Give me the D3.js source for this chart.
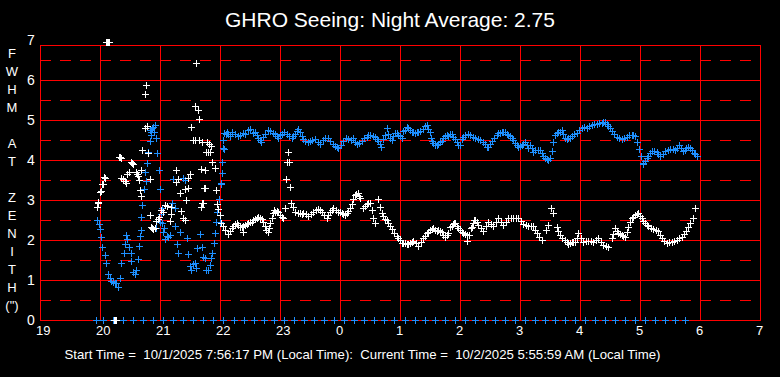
<!DOCTYPE html>
<html>
<head>
<meta charset="utf-8">
<script src="https://cdn.jsdelivr.net/npm/d3@7"></script>
<style>
  html, body { margin: 0; padding: 0; background: #000; }
  svg { display: block; }
  text { font-family: "Liberation Sans", Arial, sans-serif; fill: #fff; }
</style>
</head>
<body>
<svg id="chart" width="780" height="377"></svg>
<script>
// ---- data (time = minutes after 19:00, value = FWHM arcsec) ----
const titleText = "GHRO Seeing: Night Average: 2.75";
const footerText = "Start Time =  10/1/2025 7:56:17 PM (Local Time):  Current Time =  10/2/2025 5:55:59 AM (Local Time)";
const xTickLabels = ["19","20","21","22","23","0","1","2","3","4","5","6","7"];
const yTickLabels = ["0","1","2","3","4","5","6","7"];
const yAxisLetters = ["F","W","H","M","","A","T","","Z","E","N","I","T","H","(\")"];

const whiteSeries = [
  [57.3,2.83],[58,2.94],[58.3,2.93],[59.7,3.19],[60.7,3.23],[61.7,3.4],[63,3.39],[64,3.58],[65.3,3.54],
  [66,6.96],[67,6.96],[68,6.96],[69,6.96],
  [74,0],[75,0],[76,0],
  [79,4.07],[80,4.07],[80.5,4.06],
  [81.3,3.56],[83.3,3.52],[84.5,3.47],[86.3,3.42],[87.3,3.64],[88.7,3.71],[90.7,3.94],[92,3.92],[93,3.89],
  [96,3.7],[97,3.65],[98,3.6],[98.7,3.49],[99.7,3.24],[100.7,3.09],[101.3,3.74],[102.3,4.24],[104.7,4.79],
  [105.3,5.64],[106.3,5.88],[107.3,4.86],[108.3,4.18],[109.7,3.53],[110.3,2.63],[111,2.33],[112,2.3],
  [113,2.28],[114.7,2.3],[116.3,2.48],[118,2.53],[118.5,2.58],[121.3,2.75],[123,2.71],[125,2.88],[127,2.85],
  [129.7,2.48],[130.7,2.64],[131,2.83],[136,3.46],[136.3,3.74],[138,3.53],[139.7,3.17],[141,2.73],[143,2.55],
  [144.7,2.5],[144.7,3.28],[146.3,3.0],[148,3.29],[148,3.56],[149.7,3.64],[151.3,4.82],[153,4.49],[155,4.49],
  [155.3,5.35],[156.3,6.42],[158,5.25],[158.7,5.03],[159,4.49],[160.7,3.77],[161.3,2.83],[161.7,4.46],[162,2.92],
  [162.7,2.92],[164,3.29],[164.7,3.29],[165.3,3.74],[166,4.19],[167,4.44],[168,4.2],[169,4.4],[170,4.19],[171,4.35],
  [172.3,3.96],[174.7,3.79],[176.3,3.26],[177.3,2.89],[178,2.78],[179.7,2.63],[181.3,2.42],[183,2.35],[185,2.25],
  [187.7,2.15],[191.7,2.29],[195,2.4],[198.3,2.38],[201.7,2.33],[202.5,2.21],[205,2.38],[208.3,2.42],[211.7,2.46],
  [215,2.52],[218.3,2.57],[221.7,2.52],[225,2.35],[227.7,2.21],[230,2.42],[233.3,2.68],[234,2.75],[235,2.71],
  [236.7,2.73],[240,2.63],[243.3,2.54],[245,2.79],[246,3.52],[247.3,3.96],[248.3,4.21],[249.3,3.96],[250,3.32],
  [251,2.92],[253.3,2.83],[255,2.71],[260,2.67],[263.3,2.68],[268.3,2.6],[273.3,2.71],[278.3,2.77],[281.7,2.71],
  [286.7,2.54],[290,2.71],[293.3,2.79],[298.3,2.71],[301.7,2.67],[305,2.63],[308.3,2.73],[311.7,2.9],[315,3.13],
  [317.7,3.17],[320,3.04],[323.3,2.79],[326.7,2.9],[330,2.93],[333.3,2.54],[335,2.42],[338.3,3.02],[340,2.83],
  [341.7,2.67],[345,2.52],[346.7,2.5],[348.3,2.43],[351.7,2.27],[356.7,2.1],[360,2.0],[361.7,1.93],[365,1.92],
  [366.7,1.9],[370,1.93],[373.3,1.97],[378.3,1.86],[383.3,2.04],[386.7,2.17],[388.3,2.21],[391.7,2.27],
  [393.3,2.29],[396.7,2.23],[398.3,2.25],[401.7,2.19],[405,2.08],[408.3,2.18],[410,2.33],[411.7,2.35],[414,2.43],
  [415,2.42],[418.3,2.31],[421.7,2.21],[423.3,2.17],[426.7,2.13],[427.3,1.98],[431,2.29],[431.7,2.33],[434.3,2.5],
  [435,2.5],[438.3,2.38],[443.3,2.23],[448.3,2.46],[453.3,2.35],[458.3,2.54],[463.3,2.38],[468.3,2.54],
  [473.3,2.54],[478.3,2.54],[483.3,2.4],[488.3,2.35],[493.3,2.35],[496.7,2.17],[501.7,2.0],[506,2.25],
  [508.3,2.38],[510.7,2.79],[513.3,2.67],[516.7,2.33],[520,2.13],[525,2.0],[528.3,1.9],[530,1.92],[533.3,1.96],
  [535,1.96],[538.3,2.17],[543.3,1.96],[548.3,1.98],[553.3,1.96],[558.3,2.04],[563.3,1.88],[568.3,1.83],
  [571.7,2.04],[575,2.29],[578.3,2.17],[581.7,2.13],[585,2.08],[588.3,2.33],[591.7,2.54],[595,2.63],[598.3,2.67],
  [601.7,2.54],[605,2.42],[608.3,2.35],[613.3,2.27],[618.3,2.23],[621.7,2.04],[626.7,1.93],[631.7,1.96],
  [636.7,2.0],[641.7,2.08],[646,2.23],[650,2.42],[652.7,2.54],[655,2.79],
  [189.5,2.22],[193.3,2.36],[196.7,2.42],[200,2.33],[203.3,2.36],[206.7,2.4],[210,2.46],[213.3,2.5],[216.7,2.56],
  [220,2.56],[223.3,2.44],[226.3,2.26],[228.8,2.3],[231.7,2.55],[238.3,2.7],[241.7,2.58],[257.5,2.68],[261.7,2.66],
  [265.8,2.64],[270.8,2.66],[275.8,2.74],[280,2.75],[284.2,2.62],[288.3,2.62],[291.7,2.75],[295.8,2.76],[300,2.69],
  [303.3,2.64],[306.7,2.68],[310,2.8],[313.3,3.02],[316.3,3.15],[318.8,3.1],[325,2.85],[328.3,2.92],[331.7,2.76],
  [343.3,2.6],[350,2.35],[354.2,2.18],[358.3,2.04],[363.3,1.92],[368.3,1.91],[371.7,1.95],[375.8,1.92],[380.8,1.94],
  [385,2.1],[390,2.24],[395,2.26],[400,2.22],[403.3,2.13],[406.7,2.12],[412.7,2.4],[416.7,2.36],[420,2.26],
  [425,2.15],[429.2,2.12],[433,2.42],[436.7,2.44],[440.8,2.3],[445.8,2.35],[450.8,2.4],[455.8,2.45],[460.8,2.46],
  [465.8,2.46],[470.8,2.54],[475.8,2.54],[480.8,2.47],[485.8,2.38],[490.8,2.35],[495,2.26],[499,2.08],[518.3,2.22],
  [522.5,2.06],[526.7,1.95],[531.7,1.94],[536.7,2.06],[540.8,2.06],[545.8,1.97],[550.8,1.97],[555.8,2.0],[560.8,1.96],
  [565.8,1.85],[573.3,2.16],[576.7,2.23],[580,2.15],[583.3,2.1],[586.7,2.2],[590,2.44],[593.3,2.58],[596.7,2.65],
  [600,2.6],[603.3,2.48],[606.7,2.38],[610.8,2.31],[615.8,2.25],[620,2.13],[624.2,1.98],[629.2,1.94],[634.2,1.98],
  [639.2,2.04],[644,2.15],[648,2.32]
];

const blueSeries = [
  [57.3,2.5],[58.7,2.39],[59.7,2.28],[60.7,2.08],[62,1.83],[64.7,1.63],[66.3,1.42],[68,1.14],[69.7,1.06],
  [71.3,0.98],[73,0.94],[74.7,0.92],[76.3,0.92],[78,0.83],[80,1.06],[81.3,1.42],[84,1.67],[85.3,1.89],[86.3,2.13],
  [87.3,2.03],[88.7,1.83],[90.7,1.67],[91.3,1.48],[93,1.19],[94.7,1.14],[96.3,1.25],[98,1.53],[98.7,1.86],
  [99.7,2.11],[100.7,2.25],[101.3,2.58],[102.3,2.88],[104,3.28],[105.3,3.69],[106.3,3.48],[107.3,3.92],[108,4.19],
  [109.7,4.48],[110,4.75],[110.7,4.63],[111.3,4.71],[112,4.8],[113,4.83],[113.5,4.7],[114.7,4.88],[116.3,4.56],
  [116.3,2.31],[117.3,4.17],[118.7,3.75],[119.7,3.28],[119.7,2.46],[120.7,2.64],[122,2.79],[122,2.42],[123,2.21],
  [124,2.29],[125.3,2.03],[127.3,2.11],[128,2.08],[129.7,2.13],[132,2.92],[133,3.53],[134.7,2.79],[135.3,2.36],
  [137.3,1.89],[138,1.67],[139.7,2.21],[143,3.56],[145.3,3.5],[147.3,2.06],[148,1.64],[149.7,1.36],[151.3,1.24],
  [153,1.39],[154.7,1.42],[156.3,1.31],[157.3,1.79],[159.7,2.14],[162,1.83],[163,1.58],[164.7,1.56],[166.3,1.25],
  [168,1.25],[169.7,1.38],[170.7,1.56],[172,1.67],[174,1.92],[175.3,2.17],[176.3,2.46],[177.3,2.71],[178.7,3.03],
  [180,2.46],[180.7,3.39],[181,3.42],[181.7,3.67],[182,3.96],[182.5,4.3],[183,4.5],[184,4.28],[184.5,4.68],
  [185.7,4.66],[186.7,4.71],[190,4.6],[195,4.66],[200,4.62],[205,4.64],[210,4.77],[215,4.71],[218.3,4.56],
  [221,4.45],[225,4.66],[230,4.72],[235,4.64],[238.3,4.56],[241.7,4.66],[246.7,4.64],[251.7,4.56],[255,4.64],
  [258.3,4.77],[261.7,4.6],[265,4.48],[270,4.48],[275,4.52],[280,4.41],[285,4.56],[290,4.48],[295,4.35],
  [298.3,4.31],[303.3,4.48],[308.3,4.52],[313.3,4.54],[316.7,4.41],[321.7,4.48],[326.7,4.58],[330,4.63],
  [335,4.58],[338.3,4.48],[341,4.33],[343.3,4.52],[346.7,4.79],[350,4.56],[351.7,4.5],[355,4.68],[356.7,4.67],
  [360,4.6],[361.7,4.54],[363.3,4.72],[366.7,4.83],[367.7,4.81],[371.7,4.71],[373.3,4.71],[375,4.68],[378.3,4.71],
  [380,4.72],[385,4.85],[386.7,4.88],[388.3,4.77],[390,4.7],[391,4.56],[393.3,4.42],[396.7,4.37],[398.3,4.4],
  [401.7,4.48],[403.3,4.54],[406.7,4.63],[410,4.65],[411.7,4.64],[415,4.52],[418.3,4.38],[420,4.38],[421.7,4.52],
  [425,4.63],[430,4.62],[435,4.54],[440,4.5],[445,4.41],[446.7,4.33],[448.3,4.33],[451.7,4.48],[456.7,4.63],
  [458.3,4.67],[461.7,4.71],[463.3,4.71],[466.7,4.66],[468.3,4.63],[471.7,4.56],[473.3,4.5],[475,4.43],
  [478.3,4.33],[480,4.35],[483.3,4.4],[485,4.45],[488.3,4.29],[490,4.38],[493.3,4.21],[495,4.24],[500,4.24],
  [503.3,4.1],[506.7,4.02],[508.3,4.0],[510,4.06],[511.7,4.23],[513.3,4.44],[515,4.63],[518.3,4.71],[520,4.71],
  [521.7,4.74],[525,4.56],[528.3,4.54],[530,4.55],[531.7,4.6],[536.7,4.68],[541.7,4.81],[546.7,4.81],
  [551.7,4.88],[556.7,4.91],[561.7,4.93],[565,4.95],[568.3,4.85],[571.7,4.73],[576.7,4.58],[581.7,4.52],
  [586.7,4.58],[591.7,4.63],[595,4.6],[597.3,4.46],[599,4.27],[600.7,4.1],[602.7,3.93],[603.3,3.9],[605,3.97],
  [608.3,4.1],[611.7,4.23],[616.7,4.19],[620,4.1],[625,4.23],[630,4.27],[635,4.25],[639.3,4.38],[643.3,4.23],
  [646,4.3],[650,4.29],[654,4.18],[656.7,4.1],
  [188,4.66],[192.5,4.7],[197.5,4.6],[202.5,4.68],[207.5,4.74],[212.5,4.68],[216.5,4.62],[219.5,4.5],[223,4.58],
  [227.5,4.74],[232.5,4.68],[236.5,4.6],[240,4.62],[244,4.7],[249,4.6],[253,4.6],[256.5,4.72],[260,4.7],
  [263.3,4.52],[267.5,4.44],[272.5,4.5],[277.5,4.46],[282.5,4.5],[287.5,4.54],[292.5,4.4],[296.5,4.33],
  [300.5,4.38],[306,4.54],[311,4.5],[315,4.46],[319,4.42],[324,4.54],[328.3,4.62],[332.5,4.6],[336.7,4.52],
  [339.7,4.4],[345,4.62],[348.3,4.66],[353.3,4.6],[358.3,4.62],[365,4.76],[369.7,4.76],[376.7,4.7],[382.5,4.78],
  [392,4.48],[395,4.38],[400,4.44],[405,4.6],[408.3,4.6],[413.3,4.58],[416.7,4.45],[423.3,4.58],[427.5,4.64],
  [432.5,4.58],[437.5,4.52],[442.5,4.46],[450,4.4],[454.2,4.56],[460,4.68],[465,4.7],[470,4.6],[476.7,4.38],
  [481.7,4.38],[486.7,4.38],[491.7,4.3],[497.5,4.24],[501.7,4.18],[505,4.05],[516.7,4.68],[523.3,4.66],
  [526.7,4.52],[534,4.64],[539,4.74],[544,4.82],[549,4.84],[554,4.9],[559,4.92],[563.3,4.94],[566.7,4.9],
  [570,4.8],[574,4.66],[579,4.54],[584,4.55],[589,4.62],[593.3,4.63],[606.7,4.04],[610,4.18],[614,4.22],
  [618.3,4.14],[622.5,4.16],[627.5,4.26],[632.5,4.27],[637,4.3],[641.3,4.3],[645,4.26],[648,4.32],[652,4.24],
  [655.3,4.14]
];

const zeroMarkerTimes = [56,63,73,83,93,103,113,123,133,143,153,163,173,183,194,204,214,224,234,244,254,264,
  274,284,294,304,314,324,334,344,354,365,375,385,395,405,415,425,435,445,455,465,475,485,495,505,515,525,535,
  545,555,565,575,585,595,605,615,625,635,645];

// ---- drawing ----
const svg = d3.select("#chart");
const W = 780, H = 377;
svg.append("rect").attr("width", W).attr("height", H).attr("fill", "#000");

const x = d3.scaleLinear().domain([0, 720]).range([40, 760]);
const y = d3.scaleLinear().domain([0, 7]).range([320, 40]);
const plotTop = 45;
const red = "#ff0000";
const blue = "#1e90ff";

const grid = svg.append("g").attr("shape-rendering", "crispEdges");
const halfVals = d3.range(0.5, 7, 1);
grid.selectAll("line.dash").data(halfVals).join("line")
  .attr("x1", x(0)).attr("x2", x(720))
  .attr("y1", d => Math.round(y(d)) + 0.5).attr("y2", d => Math.round(y(d)) + 0.5)
  .attr("stroke", red).attr("stroke-width", 1).attr("stroke-dasharray", "11,9");
grid.selectAll("line.h").data(d3.range(0, 7)).join("line")
  .attr("x1", x(0)).attr("x2", x(720))
  .attr("y1", d => Math.round(y(d)) + 0.5).attr("y2", d => Math.round(y(d)) + 0.5)
  .attr("stroke", red).attr("stroke-width", 1);
grid.append("line").attr("x1", x(0)).attr("x2", x(720))
  .attr("y1", plotTop + 0.5).attr("y2", plotTop + 0.5).attr("stroke", red);
grid.selectAll("line.v").data(d3.range(0, 13)).join("line")
  .attr("x1", d => Math.round(x(d * 60)) + 0.5).attr("x2", d => Math.round(x(d * 60)) + 0.5)
  .attr("y1", plotTop).attr("y2", y(0) + 1)
  .attr("stroke", red).attr("stroke-width", 1);

svg.append("g").selectAll("text").data(yTickLabels).join("text")
  .attr("x", 31).attr("y", (d, i) => y(i) + 5)
  .attr("text-anchor", "middle").attr("font-size", 14).text(d => d);
svg.append("g").selectAll("text").data(xTickLabels).join("text")
  .attr("x", (d, i) => x(i * 60) - 4).attr("y", 335)
  .attr("text-anchor", "start").attr("font-size", 13).text(d => d);
svg.append("g").selectAll("text").data(yAxisLetters).join("text")
  .attr("x", 12).attr("y", (d, i) => 58 + i * 18)
  .attr("text-anchor", "middle").attr("font-size", 13).text(d => d);
svg.append("text").attr("x", 390).attr("y", 27).attr("text-anchor", "middle")
  .attr("font-size", 21).text(titleText);
svg.append("text").attr("x", 362.5).attr("y", 359).attr("text-anchor", "middle")
  .attr("font-size", 13.2).style("white-space", "pre").text(footerText);

function plusPath(px, py) {
  const cx = Math.round(px), cy = Math.round(py);
  return `M${cx - 3},${cy + 0.5}h7M${cx + 0.5},${cy - 3}v7`;
}
function drawSeries(data, color) {
  svg.append("g").attr("shape-rendering", "crispEdges")
    .selectAll("path").data(data).join("path")
    .attr("d", d => plusPath(x(d[0]), y(d[1])))
    .attr("stroke", color).attr("stroke-width", 1).attr("fill", "none");
}
drawSeries(zeroMarkerTimes.map(t => [t, 0]), blue);
drawSeries(blueSeries, blue);
drawSeries(whiteSeries, "#ffffff");
</script>
</body>
</html>
